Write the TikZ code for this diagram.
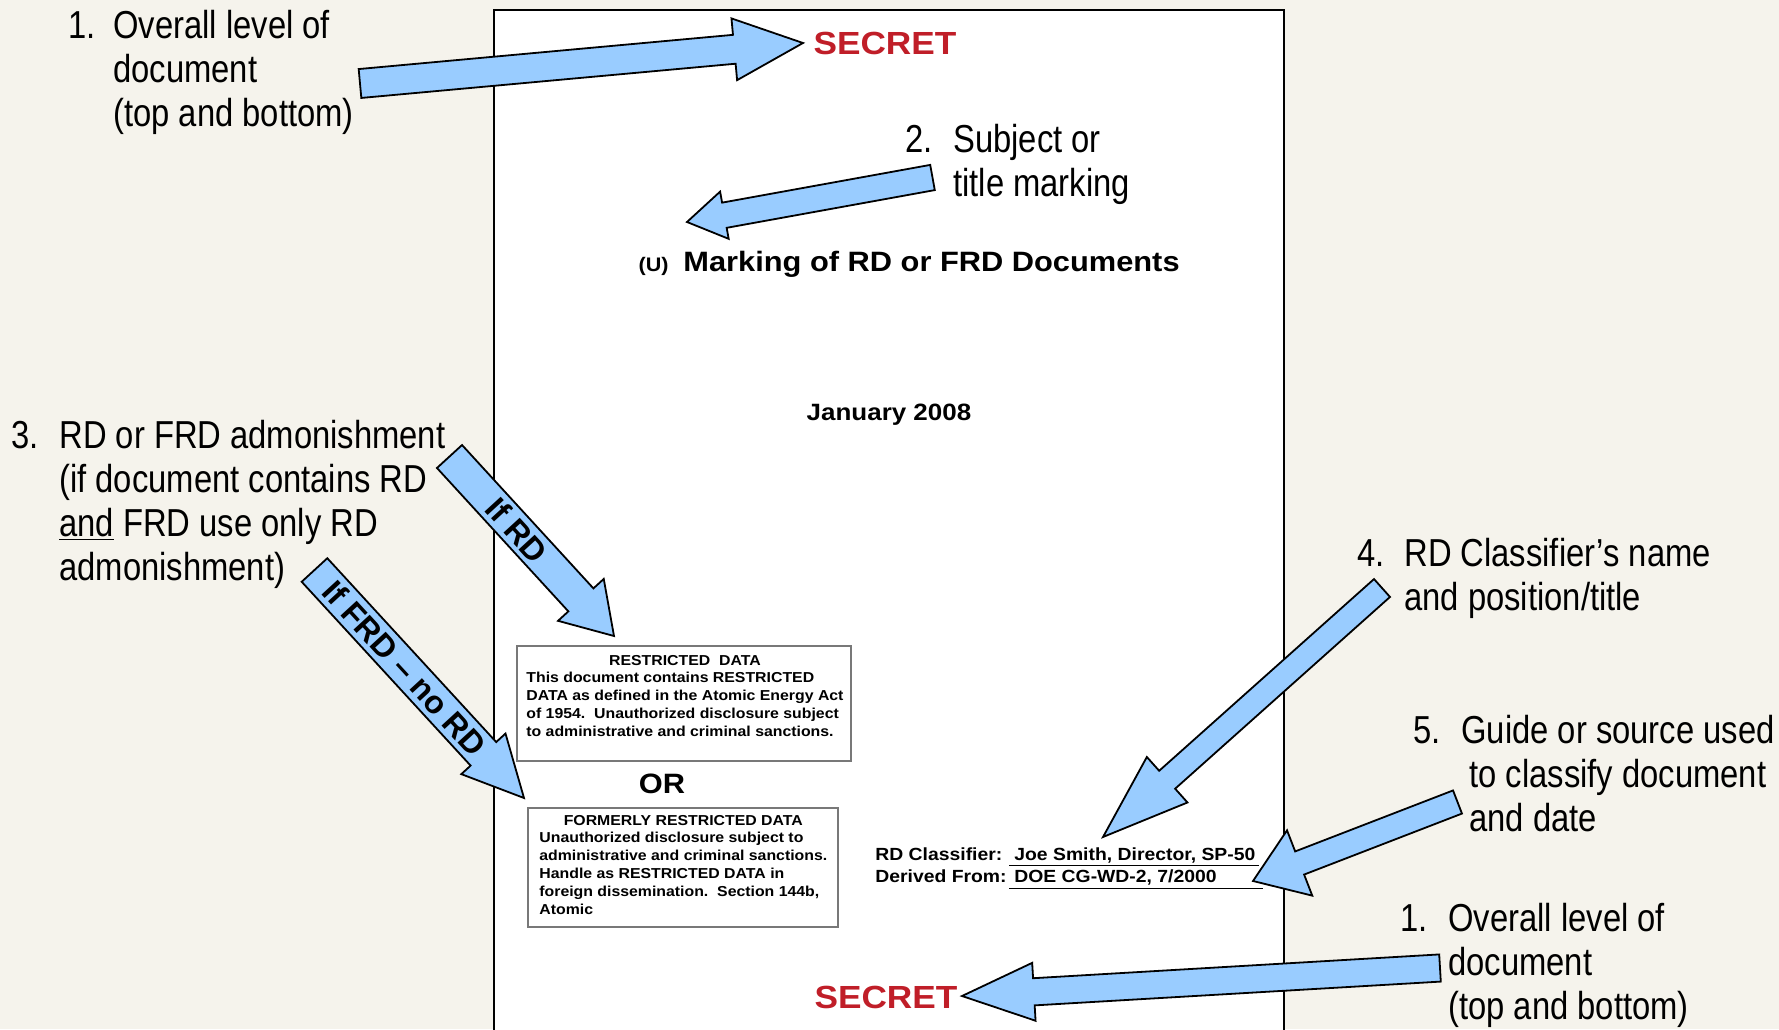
\documentclass[tikz,border=0pt]{standalone}
\usepackage{fontspec}
\setmainfont{Liberation Sans}
\newfontfamily\narrowsans[FakeStretch=0.84]{Liberation Sans}
\newfontfamily\widesans[FakeStretch=1.1]{Liberation Sans}
\usetikzlibrary{calc,positioning}

\definecolor{bgbeige}{RGB}{245,243,236}
\definecolor{arrowblue}{RGB}{153,204,255}
\definecolor{secretred}{RGB}{192,30,40}
\definecolor{boxgray}{RGB}{120,120,120}

% numbered callout text: number, then the lines
\newcommand{\numitem}[3][24pt]{%
  \begin{tabular}[t]{@{}l@{}l@{}}\makebox[#1][l]{#2}&#3\end{tabular}}

% fat arrow: tail, tip, half shaft, half head, head length
\newcommand{\blockarrow}[5]{%
  \path ($(#2)!#5!(#1)$) coordinate (hb);
  \draw[fatarrow] ($(#1)!#3!90:(#2)$) -- ($(hb)!#3!90:(#2)$)
    -- ($(hb)!#4!90:(#2)$) -- (#2) -- ($(hb)!#4!-90:(#2)$)
    -- ($(hb)!#3!-90:(#2)$) -- ($(#1)!#3!-90:(#2)$) -- cycle;
}

\begin{document}
\begin{tikzpicture}[x=0.5pt,y=-0.5pt,
  lbl/.style={font=\narrowsans\fontsize{19.5}{22}\selectfont, inner sep=0pt, anchor=base west},
  secret/.style={font=\widesans\bfseries\fontsize{16}{16}\selectfont, text=secretred, inner sep=0pt},
  doctitle/.style={font=\widesans\bfseries\fontsize{14}{16}\selectfont, inner sep=0pt},
  docsmall/.style={font=\widesans\bfseries\fontsize{9.8}{12}\selectfont, inner sep=0pt},
  docdate/.style={font=\widesans\bfseries\fontsize{11.8}{14}\selectfont, inner sep=0pt},
  boxtext/.style={font=\widesans\bfseries\fontsize{7.2}{8.9}\selectfont, inner sep=0pt, anchor=base west},
  classtext/.style={font=\widesans\bfseries\fontsize{8.8}{11.2}\selectfont, inner sep=0pt, anchor=base west},
  admbox/.style={draw=boxgray, line width=0.8pt, anchor=north west, inner sep=0pt},
  fatarrow/.style={fill=arrowblue, draw=black, line width=0.9pt, line join=miter},
  arrowtext/.style={font=\bfseries\fontsize{16}{16}\selectfont, inner sep=0pt, sloped}
]
\useasboundingbox (0,0) rectangle (1779,1029);
\fill[bgbeige] (0,0) rectangle (1779,1029);

% the sample page
\fill[white] (494,10) rectangle (1284,1040);
\draw[line width=1pt] (494,1040) -- (494,10) -- (1284,10) -- (1284,1040);

\node[secret] (secT) at (885,43) {SECRET};
\node[doctitle, anchor=base west] (title) at (683,271) {Marking of RD or FRD Documents};
\node[docsmall, base left=7pt of title] (uflag) {(U)};
\node[docdate, anchor=base] (date) at (889,420) {January 2008};

\node[admbox, minimum width=167pt, minimum height=57.5pt] (rdbox) at (516,645) {};
\node[boxtext] (rdtext) at (526,665) {\begin{tabular}[t]{@{}l@{}}
  \multicolumn{1}{@{}c@{}}{RESTRICTED\ \ DATA}\\
  This document contains RESTRICTED\\
  DATA as defined in the Atomic Energy Act\\
  of 1954.\ \ Unauthorized disclosure subject\\
  to administrative and criminal sanctions.\end{tabular}};
\node[doctitle, anchor=base] (orword) at (662,793) {OR};
\node[admbox, minimum width=155pt, minimum height=59.5pt] (frdbox) at (527,807) {};
\node[boxtext] (frdtext) at (539,825) {\begin{tabular}[t]{@{}l@{}}
  \multicolumn{1}{@{}c@{}}{FORMERLY RESTRICTED DATA}\\
  Unauthorized disclosure subject to\\
  administrative and criminal sanctions.\\
  Handle as RESTRICTED DATA in\\
  foreign dissemination.\ \ Section 144b,\\
  Atomic\end{tabular}};

\node[classtext] (classifier) at (875,860) {\begin{tabular}[t]{@{}l@{}l@{}}
  \makebox[67pt][l]{RD Classifier:}&\underline{\makebox[125pt][l]{\hspace{2.5pt}Joe Smith, Director, SP-50}}\\
  \makebox[67pt][l]{Derived From:}&\underline{\makebox[127pt][l]{\hspace{2.5pt}DOE CG-WD-2, 7/2000}}\end{tabular}};
\node[secret] (secB) at (886,997) {SECRET};

% callouts
\node[lbl] (lvltop) at (68,38) {\numitem[22.5pt]{1.}{Overall level of\\&document\\&(top and bottom)}};
\node[lbl] (subj) at (905,152) {\numitem{2.}{Subject or\\&title marking}};
\node[lbl] (admon) at (11,448) {\numitem{3.}{RD or FRD admonishment\\&(if document contains RD\\&\underline{and} FRD use only RD\\&admonishment)}};
\node[lbl] (classlbl) at (1357,566) {\numitem[23.5pt]{4.}{RD Classifier’s name\\&and position/title}};
\node[lbl] (guide) at (1413,743) {\numitem{5.}{Guide or source used\\&\hspace*{4pt}to classify document\\&\hspace*{4pt}and date}};
\node[lbl] (lvlbot) at (1400,931) {\numitem{1.}{Overall level of\\&document\\&(top and bottom)}};

% arrow ends
\coordinate (lvltop-from) at (360,83.5);   \coordinate (lvltop-to) at (803,43);
\coordinate (subj-from) at (932.5,177.5);  \coordinate (subj-to) at (687,222);
\coordinate (rd-from) at (449.5,456.5);    \coordinate (rd-to) at (614,636);
\coordinate (frd-from) at (314.5,570);     \coordinate (frd-to) at (524,798);
\coordinate (classlbl-from) at (1382,588); \coordinate (classlbl-to) at (1103,837);
\coordinate (guide-from) at (1457.5,802);  \coordinate (guide-to) at (1253,881);
\coordinate (lvlbot-from) at (1440,968);   \coordinate (lvlbot-to) at (962,996);

\blockarrow{lvltop-from}{lvltop-to}{7.25pt}{15.5pt}{34.5pt}
\blockarrow{subj-from}{subj-to}{6.4pt}{12pt}{19pt}
\blockarrow{rd-from}{rd-to}{8.5pt}{15.5pt}{24.5pt}
\blockarrow{frd-from}{frd-to}{8.7pt}{15pt}{30pt}
\blockarrow{classlbl-from}{classlbl-to}{6pt}{15.25pt}{43pt}
\blockarrow{guide-from}{guide-to}{6.2pt}{17.5pt}{25pt}
\blockarrow{lvlbot-from}{lvlbot-to}{6.8pt}{14.5pt}{36pt}

\path (rd-from) -- node[arrowtext, pos=0.41] (ifrd) {If RD} (rd-to);
\path (frd-from) -- node[arrowtext, pos=0.43] (iffrd) {If FRD \textendash{} no RD} (frd-to);
\end{tikzpicture}
\end{document}
